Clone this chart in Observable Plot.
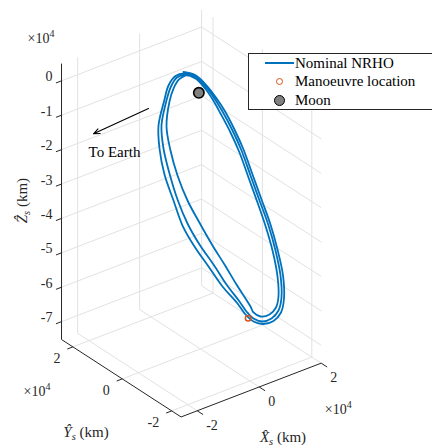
<!DOCTYPE html>
<html><head><meta charset="utf-8">
<script src="https://cdn.jsdelivr.net/npm/d3@7"></script>
<script src="https://cdn.jsdelivr.net/npm/@observablehq/plot@0.6"></script>
<style>
body{margin:0;background:#fff;}
#wrap{position:relative;width:432px;height:447px;overflow:hidden;font-family:"Liberation Serif",serif;}
#legend{position:absolute;left:248px;top:53px;width:200px;height:57px;border:1px solid #262626;background:#fff;box-sizing:border-box;}
#legend .txt{position:absolute;left:46px;height:18px;line-height:18px;font-size:15px;color:#000;white-space:nowrap;}
#legend .ln{position:absolute;left:16px;width:29px;height:2px;background:#0072BD;}
#legend .mk{position:absolute;border-radius:50%;box-sizing:border-box;}
</style></head><body>
<div id="wrap">
<div id="legend">
  <div class="ln" style="top:8px"></div><div class="txt" style="top:0px">Nominal NRHO</div>
  <div class="mk" style="left:26.5px;top:23.5px;width:7px;height:7px;border:1.5px solid #D95319"></div><div class="txt" style="top:18px">Manoeuvre location</div>
  <div class="mk" style="left:25px;top:41px;width:11px;height:11px;border:1.6px solid #000;background:#808080"></div><div class="txt" style="top:37px">Moon</div>
</div>
</div>
<script>
// ---- axis settings (units of 1e4 km) ----
const xTicks = [-2, 0, 2];
const yTicks = [-2, 0, 2];
const zTicks = [0, -1, -2, -3, -4, -5, -6, -7];
const xTickLabels = ["-2", "0", "2"];
const yTickLabels = ["-2", "0", "2"];
const zTickLabels = ["0", "-1", "-2", "-3", "-4", "-5", "-6", "-7"];
const xLim = [-2.52, 2.0];
const yLim = [-2.38, 2.46];
const zLim = [-7.52, 0.5];

// ---- Nominal NRHO trajectory (three revolutions, x1e4 km) ----
const nrhoX = [
 -0.224, 0.162, 0.481, 0.702, 0.915, 1.146, 1.341, 1.512, 1.683, 1.853, 1.960, 2.013, 1.935, 1.771, 1.489, 1.152, 0.841, 0.617, 0.411, 0.008, -0.347, -0.704, -0.990, -1.161, -1.327, -1.364, -1.286, -0.968, -0.773, -0.501,
 -0.215, 0.139, 0.444, 0.649, 0.845, 1.077, 1.272, 1.442, 1.613, 1.784, 1.890, 1.932, 1.859, 1.700, 1.436, 1.132, 0.855, 0.663, 0.485, 0.147, -0.176, -0.533, -0.819, -1.027, -1.161, -1.235, -1.190, -0.909, -0.697, -0.460,
 -0.190, 0.132, 0.404, 0.594, 0.771, 1.003, 1.197, 1.368, 1.539, 1.694, 1.800, 1.831, 1.767, 1.634, 1.391, 1.091, 0.884, 0.816, 0.693, 0.470, 0.178, -0.118, -0.405, -0.709, -0.912, -1.019, -1.033, -0.817, -0.625, -0.405,
 -0.176];
const nrhoY = [
 0.403, 0.382, 0.316, 0.250, 0.172, 0.058, -0.062, -0.212, -0.362, -0.512, -0.662, -0.818, -0.956, -1.040, -1.091, -1.109, -1.094, -1.052, -0.986, -0.884, -0.764, -0.644, -0.518, -0.368, -0.212, -0.056, 0.082, 0.238, 0.322, 0.379,
 0.394, 0.373, 0.310, 0.244, 0.166, 0.052, -0.068, -0.218, -0.368, -0.518, -0.668, -0.818, -0.950, -1.028, -1.076, -1.094, -1.076, -1.034, -0.974, -0.872, -0.752, -0.632, -0.506, -0.362, -0.206, -0.056, 0.082, 0.232, 0.316, 0.370,
 0.385, 0.364, 0.301, 0.235, 0.154, 0.040, -0.080, -0.230, -0.380, -0.530, -0.680, -0.824, -0.944, -1.010, -1.052, -1.064, -1.040, -1.004, -0.956, -0.872, -0.752, -0.638, -0.512, -0.368, -0.218, -0.068, 0.076, 0.226, 0.304, 0.358,
 0.382];
const nrhoZ = [
 0.419, 0.194, -0.206, -0.572, -0.987, -1.566, -2.159, -2.875, -3.591, -4.307, -5.001, -5.702, -6.280, -6.591, -6.717, -6.679, -6.506, -6.244, -5.884, -5.298, -4.650, -4.000, -3.350, -2.633, -1.893, -1.197, -0.619, -0.046, 0.254, 0.410,
 0.377, 0.162, -0.219, -0.579, -0.989, -1.568, -2.161, -2.877, -3.593, -4.309, -5.003, -5.674, -6.227, -6.514, -6.633, -6.606, -6.432, -6.181, -5.857, -5.294, -4.656, -4.007, -3.356, -2.654, -1.924, -1.241, -0.653, -0.093, 0.202, 0.356,
 0.328, 0.125, -0.245, -0.600, -1.015, -1.595, -2.188, -2.904, -3.620, -4.331, -5.024, -5.666, -6.169, -6.412, -6.512, -6.461, -6.284, -6.103, -5.850, -5.405, -4.779, -4.177, -3.526, -2.790, -2.063, -1.369, -0.733, -0.151, 0.124, 0.285,
 0.310];

const manoeuvreX = [0.686], manoeuvreY = [-1.074], manoeuvreZ = [-6.365];
const moonX = [-0.05], moonY = [0], moonZ = [-0.06];

// "To Earth" annotation (arrow start/end and label, x1e4 km)
const earthArrowFrom = [-1.674, 0, 0.047];
const earthArrowTo = [-3.448, 0, -0.075];
const earthLabelPos = [-2.771, 0, -0.852];
const earthLabel = "To Earth";

// ---- 3D view (orthographic) ----
const view = {kyx: 0.79677, kxz: 0.34593, kyz: 0.46512, pxPerX: 31, pxPerZ: 34.4, cx: 199.9, cy: 89.7};
const proj = (X, Y, Z) => ({u: X - view.kyx * Y, v: Z + view.kxz * X + view.kyz * Y});
const seg = (a, b, extra = {}) => { const p = proj(...a), q = proj(...b); return {x1: p.u, y1: p.v, x2: q.u, y2: q.v, ...extra}; };

const [xmin, xmax] = xLim, [ymin, ymax] = yLim, [zmin, zmax] = zLim;

// grid on back planes
const grid = [];
for (const x of xTicks) grid.push(seg([x, ymin, zmin], [x, ymax, zmin]));
for (const y of yTicks) grid.push(seg([xmin, y, zmin], [xmax, y, zmin]));
for (const x of xTicks) grid.push(seg([x, ymax, zmin], [x, ymax, zmax]));
for (const z of zTicks) grid.push(seg([xmin, ymax, z], [xmax, ymax, z]));
for (const y of yTicks) grid.push(seg([xmax, y, zmin], [xmax, y, zmax]));
for (const z of zTicks) grid.push(seg([xmax, ymin, z], [xmax, ymax, z]));

const axes = [
  seg([xmin, ymax, zmin], [xmin, ymax, zmax]),
  seg([xmin, ymax, zmin], [xmin, ymin, zmin]),
  seg([xmin, ymin, zmin], [xmax, ymin, zmin])
];
const tickLen = 0.18, xTickLen = 0.24;
const ticks = [];
for (const z of zTicks) ticks.push(seg([xmin, ymax, z], [xmin - tickLen, ymax, z]));
for (const y of yTicks) ticks.push(seg([xmin, y, zmin], [xmin - tickLen, y, zmin]));
for (const x of xTicks) ticks.push(seg([x, ymin, zmin], [x, ymin - xTickLen, zmin]));

const pt = (X, Y, Z, extra = {}) => ({...proj(X, Y, Z), ...extra});
const zLabels = zTicks.map((z, i) => pt(xmin, ymax, z, {t: zTickLabels[i]}));
const yLabels = yTicks.map((y, i) => pt(xmin, y, zmin, {t: yTickLabels[i]}));
const xLabels = xTicks.map((x, i) => pt(x, ymin, zmin, {t: xTickLabels[i]}));

const orbit = nrhoX.map((x, i) => proj(x, nrhoY[i], nrhoZ[i]));
const manoeuvre = manoeuvreX.map((x, i) => proj(x, manoeuvreY[i], manoeuvreZ[i]));
const moon = moonX.map((x, i) => proj(x, moonY[i], moonZ[i]));
const arrow = [seg(earthArrowFrom, earthArrowTo)];
const earthText = [pt(...earthLabelPos, {t: earthLabel})];

const ymidv = (ymin + ymax) / 2, xmidv = (xmin + xmax) / 2, zmidv = (zmin + zmax) / 2;
// exponent and axis labels (placeholder keys replaced by rich text below)
const annos = [
  pt(xmin, ymax, zmax, {t: "@zexp", dx: -34, dy: -25, a: "start"}),
  pt(xmin, ymidv, zmin, {t: "@yexp", dx: -97.8, dy: 13, a: "start"}),
  pt(xmax, ymin, zmin, {t: "@xexp", dx: 3.6, dy: 46.3, a: "start"})
];
const axisTitles = [
  pt(xmin, ymidv, zmin, {t: "@ylab", dx: -35.3, dy: 54.3}),
  pt(xmidv, ymin, zmin, {t: "@xlab", dx: 31.9, dy: 47.4})
];
const zTitle = [pt(xmin, ymax, zmidv, {t: "@zlab"})];

const W = 432, H = 447;
const tc = "#262626";
const FF = "Liberation Serif";

const plot = Plot.plot({
  width: W, height: H,
  marginTop: 0, marginRight: 0, marginBottom: 0, marginLeft: 0,
  style: {background: "transparent", fontFamily: FF, overflow: "visible"},
  x: {type: "linear", domain: [-view.cx / view.pxPerX, (W - view.cx) / view.pxPerX], range: [0, W], axis: null},
  y: {type: "linear", domain: [(view.cy - H) / view.pxPerZ, view.cy / view.pxPerZ], range: [H, 0], axis: null},
  marks: [
    Plot.link(grid, {x1: "x1", y1: "y1", x2: "x2", y2: "y2", stroke: "#e2e2e2", strokeWidth: 1}),
    Plot.link(axes, {x1: "x1", y1: "y1", x2: "x2", y2: "y2", stroke: tc, strokeWidth: 1}),
    Plot.link(ticks, {x1: "x1", y1: "y1", x2: "x2", y2: "y2", stroke: tc, strokeWidth: 1}),
    Plot.text(zLabels, {x: "u", y: "v", text: "t", textAnchor: "end", dx: -9, dy: -4, fontSize: 14, fill: tc, fontFamily: FF}),
    Plot.text(yLabels, {x: "u", y: "v", text: "t", textAnchor: "end", dx: -12.5, dy: 11.8, fontSize: 14, fill: tc, fontFamily: FF}),
    Plot.text(xLabels, {x: "u", y: "v", text: "t", textAnchor: "start", dx: 9, dy: 14.5, fontSize: 14, fill: tc, fontFamily: FF}),
    ...annos.map(d => Plot.text([d], {x: "u", y: "v", text: "t", textAnchor: "start", dx: d.dx, dy: d.dy, fontSize: 14, fill: tc, fontFamily: FF})),
    ...axisTitles.map(d => Plot.text([d], {x: "u", y: "v", text: "t", textAnchor: "middle", dx: d.dx, dy: d.dy, fontSize: 15, fill: tc, fontFamily: FF})),
    Plot.text(zTitle, {x: "u", y: "v", text: "t", textAnchor: "middle", rotate: -90, dx: -39, dy: -1, fontSize: 15, fill: tc, fontFamily: FF}),
    Plot.line(orbit, {x: "u", y: "v", stroke: "#0072BD", strokeWidth: 1.8, curve: "catmull-rom"}),
    Plot.dot(moon, {x: "u", y: "v", r: 5.2, fill: "#808080", stroke: "#000", strokeWidth: 1.6}),
    Plot.dot(manoeuvre, {x: "u", y: "v", r: 2.8, fill: "none", stroke: "#D95319", strokeWidth: 1.5}),
    Plot.arrow(arrow, {x1: "x1", y1: "y1", x2: "x2", y2: "y2", stroke: "#000", strokeWidth: 1.1, headLength: 9, headAngle: 45}),
    Plot.text(earthText, {x: "u", y: "v", text: "t", textAnchor: "middle", fontSize: 15, fill: "#000", fontFamily: FF})
  ]
});

const expParts = [{t: "\u00d710"}, {t: "4", fs: 10, dy: -6}];
const axLab = (sym) => [{t: sym, it: true}, {t: "s", it: true, fs: 10.5, dy: 3}, {t: " (km)", dy: -3}];
const richMap = {
  "@zexp": expParts, "@yexp": expParts, "@xexp": expParts,
  "@xlab": axLab("X\u0302"), "@ylab": axLab("\u0176"), "@zlab": axLab("\u1E90")
};
d3.select(plot).selectAll("text").each(function () {
  const key = this.textContent.trim();
  const parts = richMap[key];
  if (!parts) return;
  const t = d3.select(this);
  t.selectAll("*").remove();
  t.text(null);
  for (const p of parts) {
    const s = t.append("tspan").text(p.t);
    if (p.it) s.attr("font-style", "italic");
    if (p.fs) s.attr("font-size", p.fs);
    if (p.dy) s.attr("dy", p.dy);
  }
});

plot.style.position = "absolute";
plot.style.left = "0px";
plot.style.top = "0px";
const wrap = document.getElementById("wrap");
wrap.insertBefore(plot, wrap.firstChild);
</script>
</body></html>
